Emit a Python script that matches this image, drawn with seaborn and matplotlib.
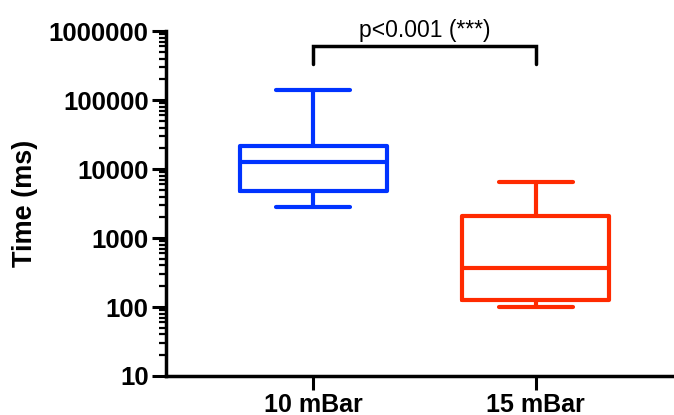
import matplotlib
matplotlib.use("Agg")
import matplotlib.pyplot as plt
import seaborn as sns
import pandas as pd
import numpy as np
from matplotlib.ticker import LogLocator, FixedLocator, NullFormatter

categories = ["10 mBar", "15 mBar"]
# five-number summaries: min, Q1, median, Q3, max
values_10 = [2850, 4870, 12800, 21800, 140000]
values_15 = [100, 125, 363, 2120, 6600]
colors = ["#0033FF", "#FF2A00"]
y_ticks = [10, 100, 1000, 10000, 100000, 1000000]
p_label = "p<0.001 (***)"

df = pd.DataFrame({
    "group": [categories[0]] * len(values_10) + [categories[1]] * len(values_15),
    "time": values_10 + values_15,
})

sns.set_style("ticks")
plt.rcParams["font.family"] = ["Liberation Sans", "DejaVu Sans"]
plt.rcParams.update({"text.color": "black", "axes.labelcolor": "black",
                     "axes.edgecolor": "black", "xtick.color": "black",
                     "ytick.color": "black"})

fig = plt.figure(figsize=(6.74, 4.15), dpi=100)
ax = fig.add_axes([0.2463, 0.094, 0.7537, 0.831])

sns.boxplot(data=df, x="group", y="time", hue="group", palette=colors,
            order=categories, hue_order=categories, fill=False, whis=(0, 100),
            width=0.66, linewidth=3.0, log_scale=True, legend=False, ax=ax,
            showfliers=False,
            capprops=dict(solid_capstyle="round"),
            whiskerprops=dict(solid_capstyle="butt"),
            medianprops=dict(solid_capstyle="butt"))

ax.set_ylim(10, 1000000)
ax.set_xlim(-0.66, 1.62)
ax.yaxis.set_major_locator(FixedLocator(y_ticks))
ax.set_yticklabels([str(t) for t in y_ticks], fontsize=18.5, fontweight="bold")
ax.yaxis.set_minor_locator(LogLocator(base=10, subs=np.arange(2, 10)))
ax.yaxis.set_minor_formatter(NullFormatter())
ax.tick_params(axis="y", which="major", length=10, width=2.2, direction="out", pad=2.5)
ax.tick_params(axis="y", which="minor", length=5, width=1.6, direction="out")
ax.tick_params(axis="x", which="major", length=10, width=2.2, direction="out", pad=2)
for lab in ax.get_xticklabels():
    lab.set_fontsize(18)
    lab.set_fontweight("bold")

ax.set_xlabel("")
ax.set_ylabel("Time (ms)", fontsize=19.5, fontweight="bold")
ax.yaxis.set_label_coords(-0.252, 0.5)

sns.despine(ax=ax)
ax.spines["left"].set_linewidth(2.5)
ax.spines["bottom"].set_linewidth(2.5)

# significance bracket
y_top, y_end = 606000, 333000
ax.plot([0, 0, 1, 1], [y_end, y_top, y_top, y_end], color="black", lw=2.5,
        solid_capstyle="round", solid_joinstyle="miter", clip_on=False)
ax.text(0.5, 690000, p_label, ha="center", va="bottom", fontsize=16.5, clip_on=False)

fig.savefig("out.png", dpi=100)
